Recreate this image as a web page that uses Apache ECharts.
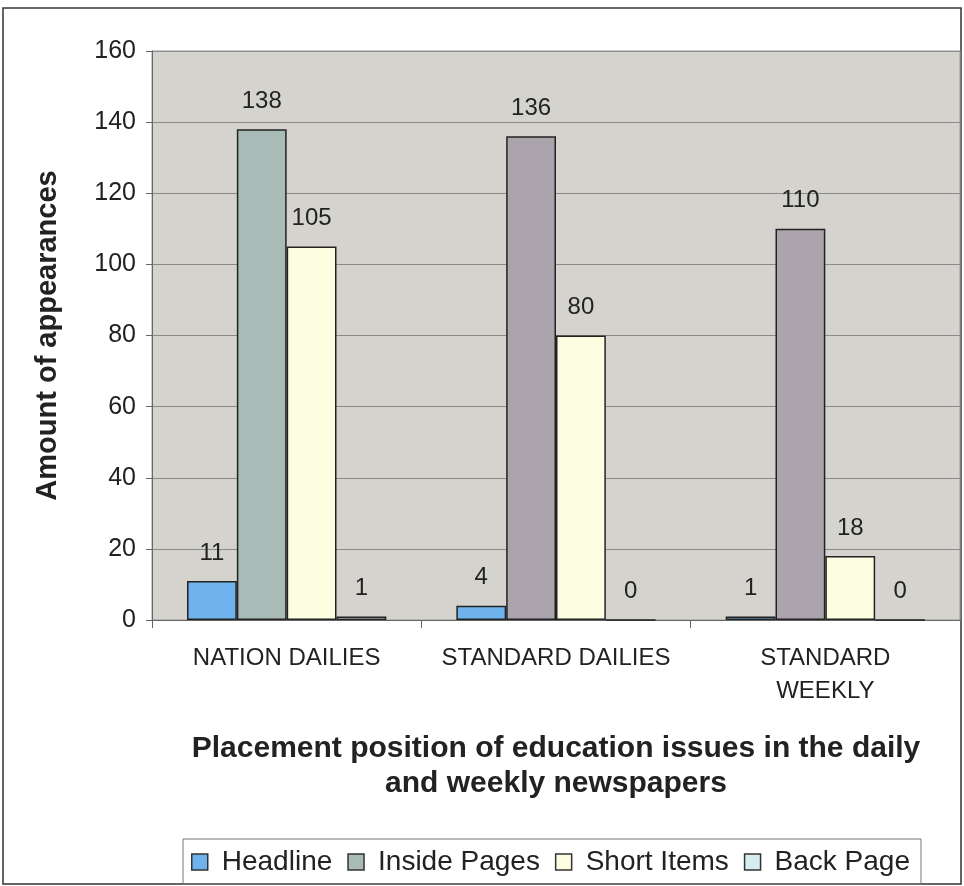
<!DOCTYPE html>
<html><head><meta charset="utf-8">
<script src="https://cdn.jsdelivr.net/npm/echarts@6/dist/echarts.min.js"></script>
<style>html,body{margin:0;padding:0;background:#fff}#c{width:964px;height:886px}</style>
</head><body><div id="c"></div>
<script>
const categories = ['NATION DAILIES', 'STANDARD DAILIES', 'STANDARD\nWEEKLY'];
const headline = [11, 4, 1];
const insidePages = [138, 136, 110];
const shortItems = [105, 80, 18];
const backPage = [1, 0, 0];
const seriesNames = ['Headline', 'Inside Pages', 'Short Items', 'Back Page'];
const insideColors = ['#a8bbb7', '#aba4ac', '#aba4ac'];

const chart = echarts.init(document.getElementById('c'));
const font = 'Liberation Sans, Arial, sans-serif';
const lbl = {show: true, position: 'top', distance: 16, fontSize: 24, color: '#222', fontFamily: font};
const common = {type: 'bar', barGap: '0%', barCategoryGap: '26%', label: lbl};
chart.setOption({
  animation: false,
  graphic: [{type: 'rect', shape: {x: 3, y: 8, width: 958, height: 876}, style: {fill: 'none', stroke: '#333', lineWidth: 1.5}, z: -1}],
  grid: {left: 152, right: 4, top: 51, bottom: 266, show: true, backgroundColor: '#d5d3cd', borderColor: '#999', borderWidth: 1},
  legend: {
    top: 839, left: 183, itemWidth: 16, itemHeight: 16, itemGap: 15,
    icon: 'rect', padding: [9, 11, 8, 8], borderColor: '#777', borderWidth: 1,
    textStyle: {fontSize: 28, color: '#222', fontFamily: font, padding: [0, 0, 0, 9]},
    data: seriesNames.map((n, i) => ({name: n, itemStyle: {color: ['#6fb3ee', '#a8bbb7', '#fdfde1', '#d6ecf0'][i], borderColor: '#333', borderWidth: 1.5}}))
  },
  xAxis: {
    type: 'category', data: categories,
    name: 'Placement position of education issues in the daily\nand weekly newspapers',
    nameLocation: 'middle', nameGap: 111,
    nameTextStyle: {fontSize: 30, fontWeight: 'bold', color: '#222', fontFamily: font, lineHeight: 35},
    axisLine: {lineStyle: {color: '#666'}},
    axisTick: {show: true, length: 8, lineStyle: {color: '#666'}},
    axisLabel: {interval: 0, fontSize: 24, color: '#222', fontFamily: font, margin: 22, lineHeight: 33}
  },
  yAxis: {
    type: 'value', min: 0, max: 160, interval: 20,
    name: 'Amount of appearances', nameLocation: 'middle', nameGap: 90,
    nameTextStyle: {fontSize: 29, fontWeight: 'bold', color: '#222', fontFamily: font},
    axisLine: {show: true, lineStyle: {color: '#666'}},
    axisTick: {show: true, length: 6, lineStyle: {color: '#666'}},
    axisLabel: {fontSize: 25, color: '#222', fontFamily: font, margin: 16},
    splitLine: {lineStyle: {color: '#8a8a8a'}}
  },
  series: [
    Object.assign({}, common, {name: 'Headline', data: headline, itemStyle: {color: '#6fb3ee', borderColor: '#222', borderWidth: 1.5}}),
    Object.assign({}, common, {name: 'Inside Pages', data: insidePages.map((v, i) => ({value: v, itemStyle: {color: insideColors[i]}})), itemStyle: {color: '#a8bbb7', borderColor: '#222', borderWidth: 1.5}}),
    Object.assign({}, common, {name: 'Short Items', data: shortItems, itemStyle: {color: '#fdfde1', borderColor: '#222', borderWidth: 1.5}}),
    Object.assign({}, common, {name: 'Back Page', data: backPage, itemStyle: {color: '#d6ecf0', borderColor: '#222', borderWidth: 1.5}})
  ]
});
</script></body></html>
